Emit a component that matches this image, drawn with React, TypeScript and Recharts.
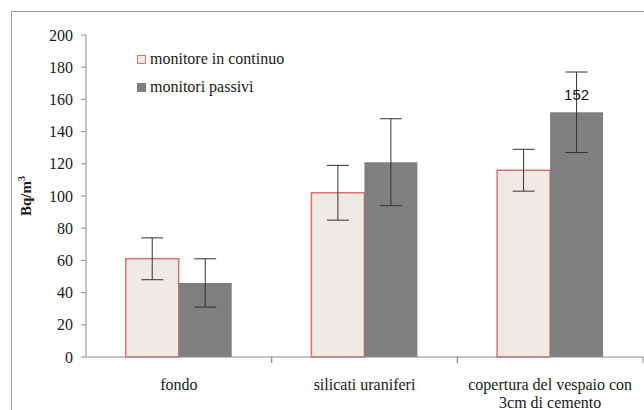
import { BarChart, Bar, XAxis, YAxis, ErrorBar, Legend, LabelList } from "recharts";

const categories = ["fondo", "silicati uraniferi", "copertura del vespaio con\n3cm di cemento"];
const continuo = [61, 102, 116];
const continuoErr = [13, 17, 13];
const passivi = [46, 121, 152];
const passiviErr = [15, 27, 25];
const passiviLabels = ["", "", "152"];
const yTicks = [0, 20, 40, 60, 80, 100, 120, 140, 160, 180, 200];

const data = categories.map((name, i) => ({
  name,
  continuo: continuo[i],
  continuoErr: continuoErr[i],
  passivi: passivi[i],
  passiviErr: passiviErr[i],
  lbl: passiviLabels[i],
}));

const SERIF = "Liberation Serif, Times New Roman, serif";
const AXIS = "#8a8a8a";

const CategoryTick = (props: any) => {
  const { x, y, payload } = props;
  const half = payload.offset ?? 0;
  const axisY = y - 10;
  const lines = String(payload.value).split("\n");
  return (
    <g>
      {payload.index > 0 && (
        <line x1={x - half} x2={x - half} y1={axisY} y2={axisY + 6} stroke={AXIS} />
      )}
      <line x1={x + half} x2={x + half} y1={axisY} y2={axisY + 6} stroke={AXIS} />
      <text x={x} y={axisY + 33} textAnchor="middle" style={{ fontFamily: SERIF }} fontSize={16} fill="#1a1a1a">
        {lines.map((l, i) => (
          <tspan key={i} x={x} dy={i === 0 ? 0 : 18}>
            {l}
          </tspan>
        ))}
      </text>
    </g>
  );
};

const LegendBox = () => (
  <div style={{ fontFamily: SERIF, fontSize: 16, color: "#1a1a1a", lineHeight: "28px" }}>
    <div style={{ display: "flex", alignItems: "center" }}>
      <span style={{ width: 7, height: 7, border: "1px solid #e0707a", background: "#eeece1", marginRight: 4 }} />
      monitore in continuo
    </div>
    <div style={{ display: "flex", alignItems: "center" }}>
      <span style={{ width: 9, height: 9, background: "#7f7f7f", marginRight: 4 }} />
      monitori passivi
    </div>
  </div>
);

export default function App() {
  return (
    <div style={{ position: "absolute", left: 0, top: 0, width: 644, height: 410, overflow: "hidden", background: "#fff" }}>
      <div
        style={{
          position: "absolute",
          left: 11,
          top: 11,
          width: 700,
          height: 500,
          borderLeft: "1.5px solid #a0a0a0",
          borderTop: "1.5px solid #a0a0a0",
        }}
      />
      <BarChart
        width={644}
        height={410}
        data={data}
        margin={{ top: 35, right: 1, bottom: 0, left: 0 }}
        barGap={0}
        barCategoryGap="21.4%"
      >
        <XAxis
          dataKey="name"
          stroke={AXIS}
          tickLine={false}
          tickSize={0}
          tickMargin={10}
          interval={0}
          height={53}
          tick={<CategoryTick />}
        />
        <YAxis
          domain={[0, 200]}
          ticks={yTicks}
          width={86}
          stroke={AXIS}
          tickSize={5}
          tickMargin={8}
          tick={{ style: { fontFamily: SERIF }, fontSize: 16, fill: "#1a1a1a" }}
          label={{
            content: (p: any) => {
              const vb = p.viewBox || { x: 0, y: 35, width: 86, height: 322 };
              const cx = 31;
              const cy = vb.y + vb.height / 2;
              return (
                <text
                  x={cx}
                  y={cy}
                  transform={`rotate(-90 ${cx} ${cy})`}
                  textAnchor="middle"
                  style={{ fontFamily: SERIF }}
                  fontSize={15}
                  fontWeight="bold"
                  fill="#1a1a1a"
                >
                  Bq/m<tspan dy={-6} fontSize={10}>3</tspan>
                </text>
              );
            },
          }}
        />
        <Legend
          layout="vertical"
          align="center"
          verticalAlign="middle"
          wrapperStyle={{ left: 137, top: 45, width: 200, height: 60 }}
          content={<LegendBox />}
        />
        <Bar dataKey="continuo" name="monitore in continuo" fill="#eeece1" stroke="#e0707a" strokeWidth={1.5} isAnimationActive={false}>
          <ErrorBar dataKey="continuoErr" width={11} stroke="#333" strokeWidth={1} direction="y" />
        </Bar>
        <Bar dataKey="passivi" name="monitori passivi" fill="#7f7f7f" isAnimationActive={false}>
          <ErrorBar dataKey="passiviErr" width={11} stroke="#333" strokeWidth={1} direction="y" />
          <LabelList
            dataKey="lbl"
            position="top"
            offset={12}
            fontFamily="Liberation Sans, Arial, sans-serif"
            fontSize={15}
            fill="#111"
          />
        </Bar>
      </BarChart>
    </div>
  );
}
